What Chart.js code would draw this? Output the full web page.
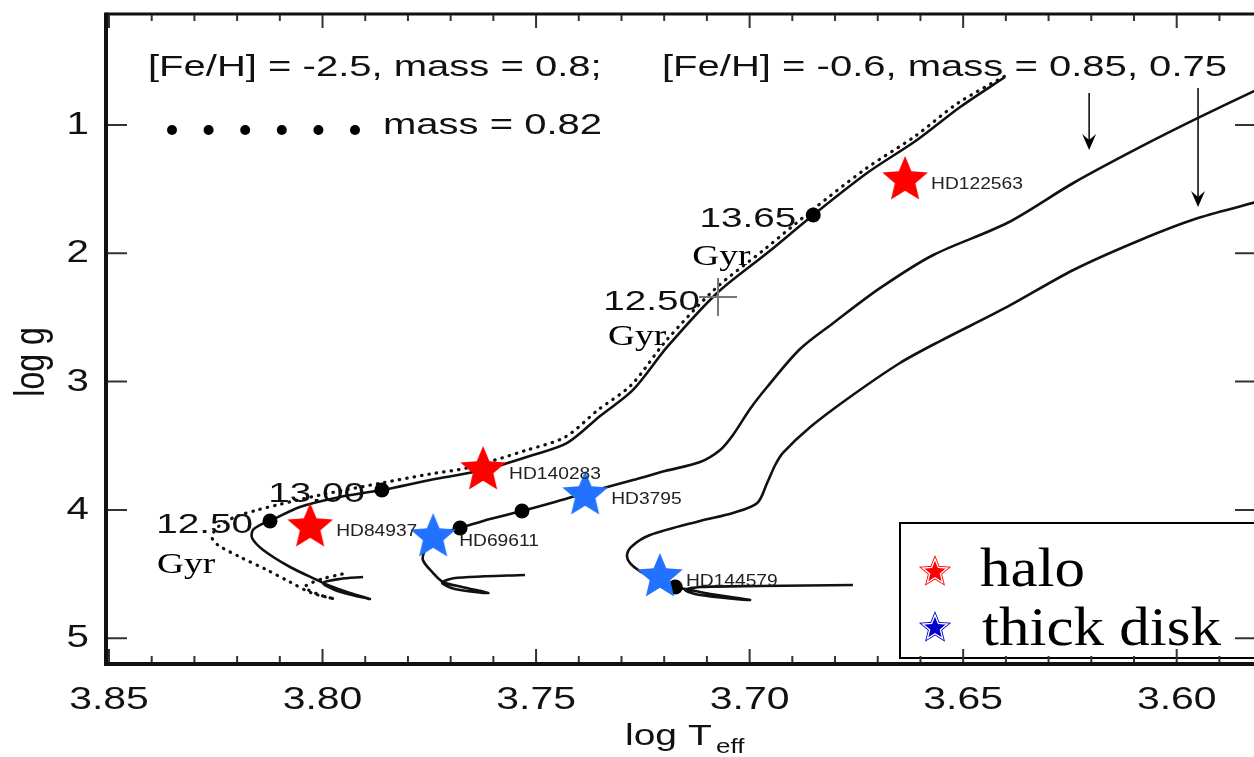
<!DOCTYPE html>
<html lang="en">
<head>
<meta charset="UTF-8">
<title>log g vs log Teff</title>
<script src="https://cdn.jsdelivr.net/npm/chart.js"></script>
<style>
  html, body { margin: 0; padding: 0; background: #fff; overflow: hidden; }
</style>
</head>
<body>
<canvas id="hr" width="1254" height="757"></canvas>
<script>
// ---- values ----
const xTicks = [3.85, 3.80, 3.75, 3.70, 3.65, 3.60];
const yTicks = [1, 2, 3, 4, 5];

// [Fe/H] = -2.5, mass = 0.80 (solid)
const teffM080 = [3.7905, 3.7959, 3.7999, 3.7971, 3.7931, 3.7889, 3.7936, 3.7982, 3.8013, 3.8076,
                  3.8139, 3.8165, 3.8163, 3.8142, 3.8123, 3.8053, 3.7959, 3.7861, 3.7748, 3.7624,
                  3.7507, 3.7427, 3.7350, 3.7273, 3.7193, 3.7076, 3.6959, 3.6851, 3.6725, 3.6608,
                  3.6507, 3.6402];
const loggM080 = [4.523, 4.538, 4.570, 4.624, 4.663, 4.694, 4.648, 4.593, 4.546, 4.445,
                  4.312, 4.219, 4.157, 4.110, 4.086, 3.977, 3.899, 3.845, 3.767, 3.689,
                  3.572, 3.478, 3.268, 3.065, 2.730, 2.309, 1.998, 1.701, 1.374, 1.117,
                  0.860, 0.626];

// [Fe/H] = -2.5, mass = 0.82 (dotted)
const teffM082 = [3.7954, 3.8001, 3.8041, 3.8006, 3.7971, 3.8025, 3.8076, 3.8130, 3.8193, 3.8245,
                  3.8259, 3.8245, 3.8205, 3.8153, 3.8107, 3.8006, 3.7861, 3.7748, 3.7662, 3.7521,
                  3.7432, 3.7355, 3.7277, 3.7198, 3.7081, 3.6964, 3.6856, 3.6729, 3.6612, 3.6512,
                  3.6390];
const loggM082 = [4.500, 4.538, 4.601, 4.663, 4.694, 4.648, 4.562, 4.468, 4.367, 4.273,
                  4.211, 4.133, 4.055, 4.001, 3.962, 3.884, 3.790, 3.720, 3.673, 3.533,
                  3.432, 3.221, 3.026, 2.691, 2.278, 1.966, 1.670, 1.343, 1.086, 0.829,
                  0.595];

// [Fe/H] = -0.6, mass = 0.85
const teffM085 = [3.7526, 3.7655, 3.7701, 3.7720, 3.7690, 3.7612, 3.7673, 3.7718, 3.7741, 3.7765,
                  3.7760, 3.7741, 3.7713, 3.7678, 3.7608, 3.7533, 3.7456, 3.7385, 3.7273, 3.7198,
                  3.7116, 3.7069, 3.7039, 3.6999, 3.6959, 3.6882, 3.6804, 3.6694, 3.6570, 3.6397,
                  3.6242, 3.6085, 3.5950, 3.5804];
const loggM085 = [4.507, 4.523, 4.538, 4.570, 4.616, 4.648, 4.601, 4.562, 4.492, 4.390,
                  4.312, 4.219, 4.172, 4.141, 4.071, 4.008, 3.938, 3.868, 3.767, 3.697,
                  3.627, 3.533, 3.416, 3.213, 3.042, 2.746, 2.543, 2.270, 2.013, 1.764,
                  1.452, 1.171, 0.945, 0.712];

// [Fe/H] = -0.6, mass = 0.75
const teffM075 = [3.6758, 3.6975, 3.7116, 3.7151, 3.7116, 3.6999, 3.7092, 3.7139, 3.7174, 3.7210,
                  3.7249, 3.7280, 3.7287, 3.7275, 3.7233, 3.7116, 3.7039, 3.6982, 3.6959, 3.6940,
                  3.6922, 3.6858, 3.6765, 3.6648, 3.6554, 3.6397, 3.6242, 3.6085, 3.5950, 3.5804];
const loggM075 = [4.585, 4.593, 4.601, 4.624, 4.663, 4.702, 4.655, 4.624, 4.601, 4.546,
                  4.492, 4.414, 4.351, 4.281, 4.196, 4.086, 4.024, 3.946, 3.790, 3.650,
                  3.556, 3.354, 3.120, 2.855, 2.684, 2.418, 2.130, 1.896, 1.725, 1.592];

const haloNames = ['HD122563', 'HD140283', 'HD84937'];
const haloTeff = [3.6636, 3.7624, 3.8029];
const haloLogg = [1.413, 3.673, 4.118];
const diskNames = ['HD69611', 'HD3795', 'HD144579'];
const diskTeff = [3.7741, 3.7385, 3.7210];
const diskLogg = [4.196, 3.868, 4.507];

// age marks on the tracks
const ageTeff = [3.8123, 3.7861, 3.6851, 3.7678, 3.7533, 3.7174];
const ageLogg = [4.086, 3.845, 1.701, 4.141, 4.008, 4.601];
const ageText = ['12.50', '13.00', '13.65', '', '', ''];
const crossTeff = [3.7074];
const crossLogg = [2.341];
const crossText = ['12.50'];

// arrows pointing at the two [Fe/H] = -0.6 tracks
const arrowTeff = [3.6205, 3.5950];
const arrowFrom = [0.751, 0.712];
const arrowTo = [1.195, 1.639];

// ---- helpers ----
const SANS = '"Liberation Sans", Arial, Helvetica, sans-serif';
const SERIF = '"Liberation Serif", "Times New Roman", serif';
const zip = (xs, ys) => xs.map((v, i) => ({ x: v, y: ys[i] }));

function starPath(g, cx, cy, R, r) {
    g.beginPath();
    for (let i = 0; i < 10; i++) {
        const a = -Math.PI / 2 + i * Math.PI / 5;
        const rad = i % 2 ? r : R;
        g.lineTo(cx + rad * Math.cos(a), cy + rad * Math.sin(a));
    }
    g.closePath();
}

function makeStar(color, size) {
    const c = document.createElement('canvas');
    c.width = c.height = size;
    const g = c.getContext('2d');
    starPath(g, size / 2, size / 2 + 2, size / 2 - 1, (size / 2 - 1) * 0.45);
    g.fillStyle = color;
    g.fill();
    return c;
}

// text is horizontally stretched in the original figure
function sText(ctx, str, x, y, font, sx, align, color) {
    ctx.save();
    ctx.font = font;
    ctx.fillStyle = color || '#111';
    ctx.textBaseline = 'alphabetic';
    ctx.textAlign = 'left';
    const w = ctx.measureText(str).width * sx;
    let left = x;
    if (align === 'right') left = x - w;
    else if (align === 'center') left = x - w / 2;
    ctx.translate(left, y);
    ctx.scale(sx, 1);
    ctx.fillText(str, 0, 0);
    ctx.restore();
}

const redStar = makeStar('#ff0000', 50);
const blueStar = makeStar('#2272ff', 50);

// label offsets (pixels) from the marks
const gyrOffsets = { 0: [-113, 52], 2: [-121, 50] };
const crossGyrOffset = [-110, 48];

const annotate = {
    id: 'annotate',
    afterDatasetsDraw(chart) {
        const { ctx, chartArea: a, scales: { x, y } } = chart;
        ctx.save();

        // legend box
        ctx.fillStyle = '#fff';
        ctx.fillRect(900, 523, 400, 135);
        ctx.strokeStyle = '#000';
        ctx.lineWidth = 2;
        ctx.strokeRect(900, 523, 400, 135);
        [[572, '#ff0000'], [628, '#0000c8']].forEach(([cy, col]) => {
            starPath(ctx, 935, cy, 17, 7.5);
            ctx.fillStyle = col;
            ctx.fill();
            starPath(ctx, 935, cy, 13, 5.7);
            ctx.strokeStyle = '#fff';
            ctx.lineWidth = 1.3;
            ctx.stroke();
        });
        sText(ctx, 'halo', 980, 586, '54px ' + SERIF, 1.13, 'left', '#000');
        sText(ctx, 'thick disk', 982, 645, '54px ' + SERIF, 1.13, 'left', '#000');

        // frame
        ctx.strokeStyle = '#111';
        ctx.lineWidth = 3;
        ctx.beginPath();
        ctx.moveTo(a.left, a.top);
        ctx.lineTo(a.right + 10, a.top);
        ctx.stroke();
        ctx.lineWidth = 4;
        ctx.beginPath();
        ctx.moveTo(a.left, a.top - 1.5);
        ctx.lineTo(a.left, a.bottom + 2);
        ctx.moveTo(a.left, a.bottom);
        ctx.lineTo(a.right + 10, a.bottom);
        ctx.stroke();

        // ticks
        ctx.strokeStyle = '#333';
        ctx.lineWidth = 2;
        ctx.beginPath();
        for (let k = 359; k <= 385; k++) {
            const px = x.getPixelForValue(k / 100);
            const len = k % 5 === 0 ? 13 : 6;
            ctx.moveTo(px, a.bottom - 2);
            ctx.lineTo(px, a.bottom - 2 - len);
            ctx.moveTo(px, a.top + 1);
            ctx.lineTo(px, a.top + 1 + len);
        }
        yTicks.forEach(v => {
            const py = y.getPixelForValue(v);
            ctx.moveTo(a.left + 2, py);
            ctx.lineTo(a.left + 21, py);
            ctx.moveTo(a.right, py);
            ctx.lineTo(a.right - 19, py);
        });
        ctx.stroke();

        // tick labels
        xTicks.forEach(v => {
            sText(ctx, v.toFixed(2), x.getPixelForValue(v), 709, '31px ' + SANS, 1.32, 'center', '#111');
        });
        yTicks.forEach(v => {
            sText(ctx, String(v), 89, y.getPixelForValue(v) + 9, '31px ' + SANS, 1.3, 'right', '#111');
        });

        // axis titles
        sText(ctx, 'log T', 625, 745, '30px ' + SANS, 1.3, 'left', '#111');
        sText(ctx, 'eff', 716, 753, '20px ' + SANS, 1.3, 'left', '#111');
        ctx.save();
        ctx.translate(33, 362);
        ctx.scale(1.3, 1);
        ctx.rotate(-Math.PI / 2);
        ctx.font = '32px ' + SANS;
        ctx.fillStyle = '#111';
        ctx.textAlign = 'center';
        ctx.textBaseline = 'middle';
        ctx.fillText('log g', 0, 0);
        ctx.restore();

        // track captions
        sText(ctx, '[Fe/H] = -2.5, mass = 0.8;', 148, 76, '29px ' + SANS, 1.38, 'left', '#111');
        sText(ctx, '[Fe/H] = -0.6, mass = 0.85, 0.75', 662, 76, '29px ' + SANS, 1.38, 'left', '#111');
        ctx.fillStyle = '#000';
        for (let i = 0; i < 6; i++) {
            ctx.beginPath();
            ctx.arc(172 + i * 36.6, 130, 5, 0, Math.PI * 2);
            ctx.fill();
        }
        sText(ctx, 'mass = 0.82', 383, 134, '29px ' + SANS, 1.38, 'left', '#111');

        // star names
        const label = (meta, names) => meta.data.forEach((pt, i) => {
            sText(ctx, names[i], pt.x + 26, pt.y + 11, '16px ' + SANS, 1.2, 'left', '#222');
        });
        label(chart.getDatasetMeta(0), haloNames);
        label(chart.getDatasetMeta(1), diskNames);

        // ages
        chart.getDatasetMeta(2).data.forEach((pt, i) => {
            if (!ageText[i]) return;
            sText(ctx, ageText[i], pt.x - 17, pt.y + 12, '28px ' + SANS, 1.38, 'right', '#111');
            if (gyrOffsets[i]) {
                sText(ctx, 'Gyr', pt.x + gyrOffsets[i][0], pt.y + gyrOffsets[i][1], '30px ' + SERIF, 1.25, 'left', '#000');
            }
        });
        chart.getDatasetMeta(3).data.forEach((pt, i) => {
            sText(ctx, crossText[i], pt.x - 18, pt.y + 13, '28px ' + SANS, 1.38, 'right', '#111');
            sText(ctx, 'Gyr', pt.x + crossGyrOffset[0], pt.y + crossGyrOffset[1], '30px ' + SERIF, 1.25, 'left', '#000');
        });

        // arrow heads
        ctx.fillStyle = '#000';
        arrowTeff.forEach((t, i) => {
            const px = x.getPixelForValue(t);
            const py = y.getPixelForValue(arrowTo[i]);
            ctx.beginPath();
            ctx.moveTo(px, py);
            ctx.lineTo(px - 7, py - 16);
            ctx.lineTo(px, py - 10);
            ctx.lineTo(px + 7, py - 16);
            ctx.closePath();
            ctx.fill();
        });
        ctx.restore();
    }
};

const lineStyle = { showLine: true, pointRadius: 0, borderColor: '#111', borderWidth: 2.6, tension: 0.3, fill: false, order: 3 };

new Chart(document.getElementById('hr'), {
    type: 'scatter',
    data: {
        datasets: [
            { label: 'halo', data: zip(haloTeff, haloLogg), pointStyle: redStar, pointRadius: 12, order: 0 },
            { label: 'thick disk', data: zip(diskTeff, diskLogg), pointStyle: blueStar, pointRadius: 12, order: 0 },
            { label: 'ages', data: zip(ageTeff, ageLogg), pointStyle: 'circle', pointRadius: 7.5,
              backgroundColor: '#000', borderColor: '#000', borderWidth: 0, order: 1 },
            { label: '12.50 Gyr', data: zip(crossTeff, crossLogg), pointStyle: 'cross', pointRadius: 19,
              borderColor: '#777', borderWidth: 2, order: 1 },
            { ...lineStyle, label: 'mass 0.80', data: zip(teffM080, loggM080) },
            { ...lineStyle, label: 'mass 0.82', data: zip(teffM082, loggM082), borderWidth: 3.2,
              borderDash: [0.5, 7], borderCapStyle: 'round' },
            { ...lineStyle, label: 'mass 0.85', data: zip(teffM085, loggM085) },
            { ...lineStyle, label: 'mass 0.75', data: zip(teffM075, loggM075) },
            { ...lineStyle, label: 'arrow 0.85', data: zip([arrowTeff[0], arrowTeff[0]], [arrowFrom[0], arrowTo[0] - 0.06]),
              borderWidth: 1.6, tension: 0 },
            { ...lineStyle, label: 'arrow 0.75', data: zip([arrowTeff[1], arrowTeff[1]], [arrowFrom[1], arrowTo[1] - 0.06]),
              borderWidth: 1.6, tension: 0 }
        ]
    },
    options: {
        responsive: false,
        animation: false,
        layout: { autoPadding: false, padding: { left: 106, top: 14, right: 0, bottom: 93 } },
        plugins: { legend: { display: false }, tooltip: { enabled: false } },
        scales: {
            x: { type: 'linear', display: false, reverse: true, min: 3.5819, max: 3.8507 },
            y: { type: 'linear', display: false, reverse: true, min: 0.1348, max: 5.201 }
        }
    },
    plugins: [annotate]
});
</script>
</body>
</html>
